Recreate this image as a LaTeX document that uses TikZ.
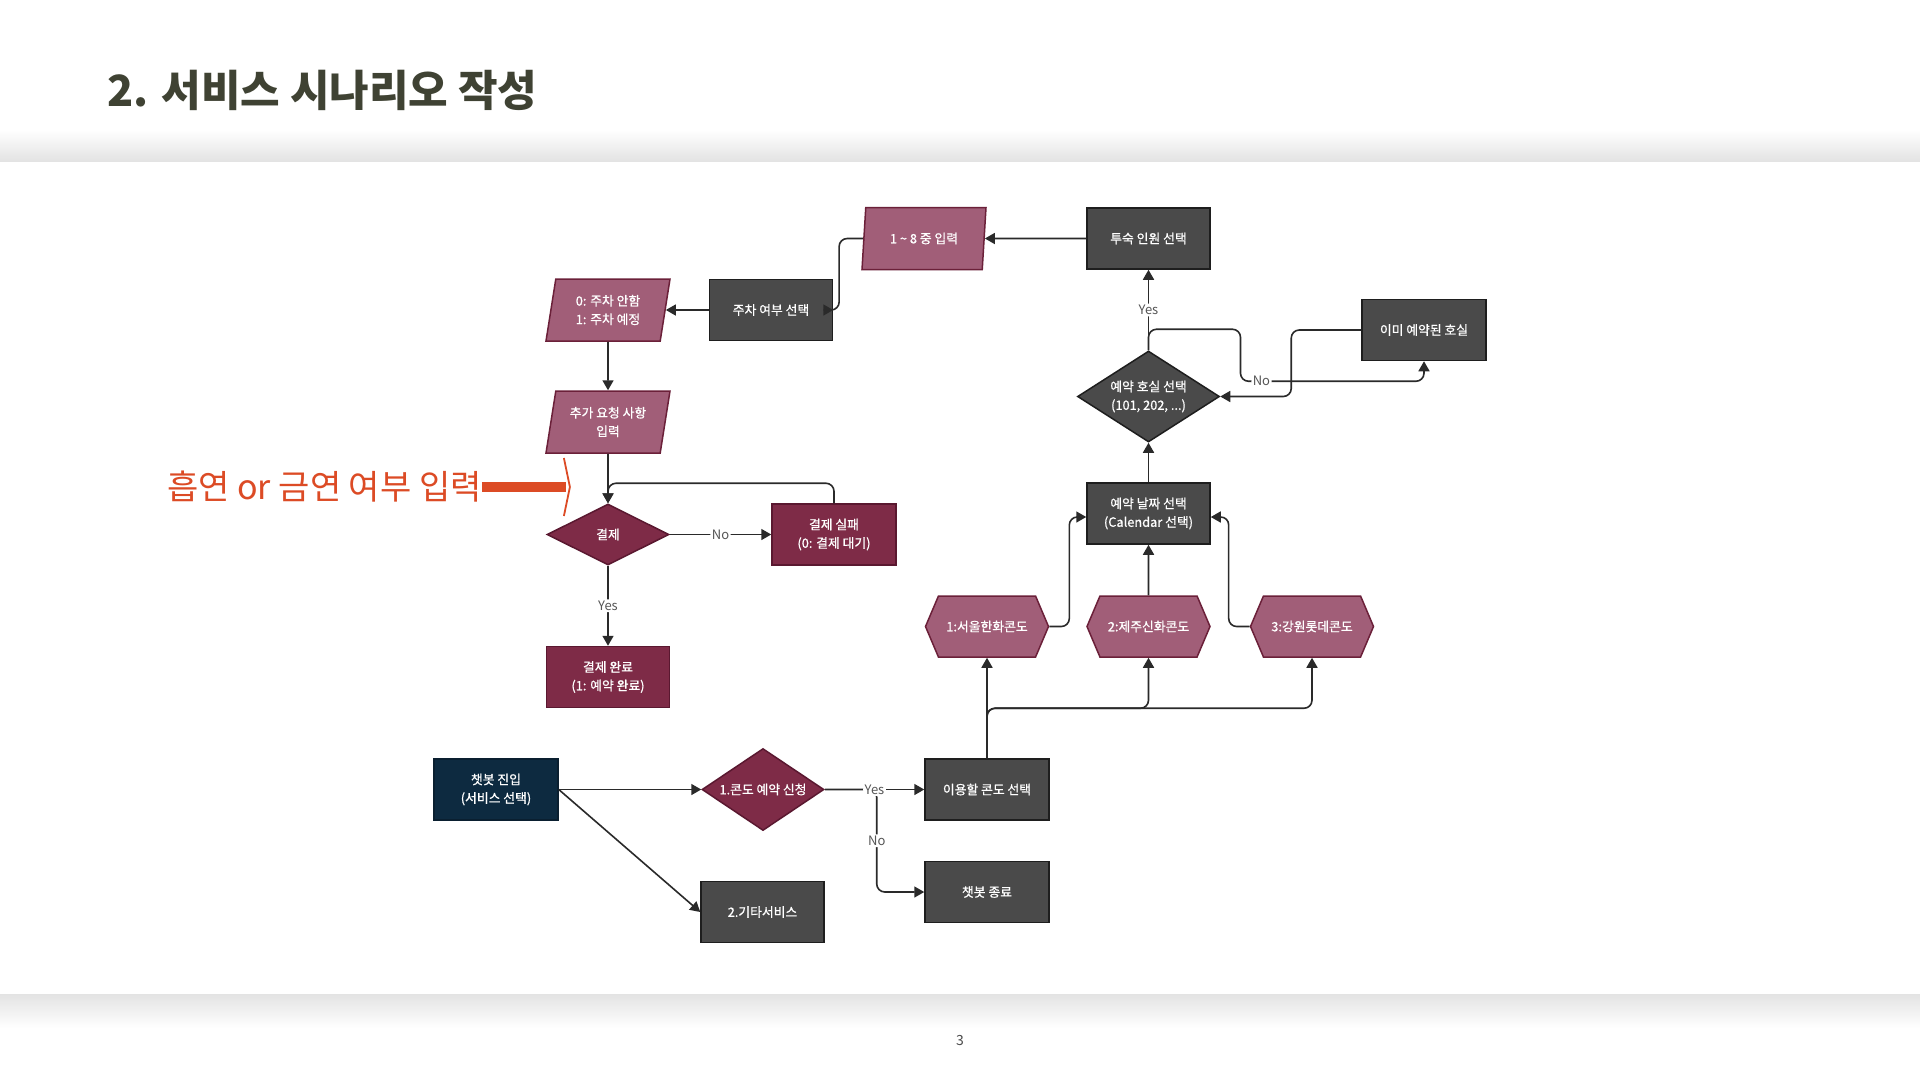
\documentclass[tikz,border=0pt]{standalone}
\usepackage{fontspec}
\setmainfont{Noto Sans CJK KR}
\newfontfamily\nodefont{Noto Sans CJK KR}[FakeBold=0.9]
\usetikzlibrary{shapes.geometric,shapes.symbols,arrows.meta,calc}

\definecolor{darkfill}{HTML}{4A4A4A}
\definecolor{darkline}{HTML}{1E1E1E}
\definecolor{mauve}{HTML}{A15E78}
\definecolor{mauveline}{HTML}{6B2039}
\definecolor{maroon}{HTML}{7E2B47}
\definecolor{maroonline}{HTML}{5A1830}
\definecolor{navy}{HTML}{0D2A40}
\definecolor{navyline}{HTML}{0A1F30}
\definecolor{connector}{HTML}{2A2A2A}
\definecolor{titlecol}{HTML}{3F4233}
\definecolor{accent}{HTML}{DC4B25}
\definecolor{labelgray}{HTML}{555555}

\begin{document}
\begin{tikzpicture}[x=1pt,y=-1pt,
 every node/.style={font=\nodefont\fontsize{12.8}{18.5}\selectfont, align=center, text=white},
 box/.style={rectangle, minimum width=123pt, minimum height=61pt, inner sep=0pt, line width=1.5pt},
 darkbox/.style={box, fill=darkfill, draw=darkline},
 maroonbox/.style={box, fill=maroon, draw=maroonline},
 navybox/.style={box, fill=navy, draw=navyline},
 para/.style={trapezium, trapezium left angle=72, trapezium right angle=108, trapezium stretches body=true, minimum width=124pt, minimum height=62pt, inner sep=0pt, fill=mauve, draw=mauveline, line width=1.5pt},
 hexa/.style={signal, signal to=east and west, signal pointer angle=134, minimum width=123pt, minimum height=61pt, inner sep=0pt, fill=mauve, draw=mauveline, line width=1.5pt},
 dia/.style={diamond, inner sep=0pt, line width=1.5pt},
 arr/.style={draw=connector, line width=1.6pt, rounded corners=8pt, -{Triangle[length=10pt,width=11pt]}},
 lbl/.style={fill=white, text=labelgray, inner sep=1.5pt, font=\fontsize{13}{15}\selectfont},
]
\useasboundingbox (0,0) rectangle (1920,1080);
\fill[white] (0,0) rectangle (1920,1080);
\shade[top color=white, bottom color=black!11] (0,130) rectangle (1920,161);
\shade[top color=black!11, bottom color=white] (0,994) rectangle (1920,1028);

% title
\node[anchor=west, inner sep=0pt, text=titlecol, font=\fontsize{43}{50}\selectfont\bfseries] (title) at (107,90) {2. 서비스 시나리오 작성};

% nodes
\node[darkbox] (tusuk) at (1148.5,238.5) {투숙 인원 선택};
\node[para] (in18) at (924,238.5) {1 \textasciitilde{} 8 중 입력};
\node[darkbox] (parking) at (771,310) {주차 여부 선택};
\node[para] (park01) at (608,310) {0: 주차 안함\\1: 주차 예정};
\node[para] (extra) at (608,422) {추가 요청 사항\\입력};
\node[dia, aspect=2, fill=maroon, draw=maroonline, minimum width=122pt, minimum height=61pt] (pay) at (608,534.5) {결제};
\node[maroonbox, minimum width=124pt] (payfail) at (834,534.5) {결제 실패\\(0: 결제 대기)};
\node[maroonbox] (payok) at (608,677) {결제 완료\\(1: 예약 완료)};
\node[darkbox, minimum width=124pt] (already) at (1424,330) {이미 예약된 호실};
\node[dia, aspect=1.56, inner sep=-3pt, fill=darkfill, draw=darkline, minimum width=142pt, minimum height=91pt] (room) at (1148.5,396.5) {예약 호실 선택\\(101, 202, ...)};
\node[darkbox] (date) at (1148.5,513.5) {예약 날짜 선택\\(Calendar 선택)};
\node[hexa] (h1) at (987,626.5) {1:서울한화콘도};
\node[hexa] (h2) at (1148.5,626.5) {2:제주신화콘도};
\node[hexa] (h3) at (1312,626.5) {3:강원롯데콘도};
\node[navybox, minimum width=124pt] (start) at (496,789.5) {챗봇 진입\\(서비스 선택)};
\node[dia, aspect=1.49, fill=maroon, draw=maroonline, minimum width=122pt, minimum height=82pt] (condo) at (763,789.5) {1.콘도 예약 신청};
\node[darkbox, minimum width=124pt] (choose) at (987,789.5) {이용할 콘도 선택};
\node[darkbox, minimum width=124pt] (quit) at (987,892) {챗봇 종료};
\node[darkbox] (other) at (762.5,912) {2.기타서비스};

% connectors
\draw[arr] (tusuk) -- (in18);
\draw[arr] (in18.west) -- ++(-24,0) |- (parking.east);
\draw[arr] (parking) -- (park01);
\draw[arr] (park01) -- (extra);
\draw[arr] (extra) -- (pay);
\draw[arr] (pay) -- node[lbl]{No} (payfail);
\draw[arr] (payfail.north) -- ++(0,-20) -| (pay.north);
\draw[arr] (pay) -- node[lbl]{Yes} (payok);

\draw[arr] (start) -- (condo);
\draw[arr] (start.east) -- (other.west);
\draw[arr] (condo.east) -- ++(52,0) |- node[lbl, pos=0.25]{No} (quit.west);
\draw[arr] (condo) -- node[lbl]{Yes} (choose);

\draw[arr] (choose) -- (h1);
\draw[arr] (choose.north) -- ++(0,-50) -| (h2.south);
\draw[arr] (choose.north) -- ++(0,-50) -| (h3.south);
\draw[arr] (h1.east) -- ++(20,0) |- ([yshift=-3.5pt]date.west);
\draw[arr] (h3.west) -- ++(-21,0) |- ([yshift=-3.5pt]date.east);
\draw[arr] (h2) -- (date);
\draw[arr] (date) -- (room);
\draw[arr] (room) -- node[lbl]{Yes} (tusuk);
\draw[arr] (room.north) -- ++(0,-21) -| ++(92,52) -| node[lbl, pos=0.057]{No} (already.south);
\draw[arr] (already.west) -- ++(-70,0) |- (room.east);

% annotation
\node[anchor=west, inner sep=0pt, text=accent, font=\fontsize{34}{40}\selectfont] (note) at (167,487) {흡연 or 금연 여부 입력};
\draw[accent, line width=10pt] (note.east) -- ++(84,0) coordinate (notetip);
\draw[accent, line width=1.8pt, line join=round] ([shift={(-2,-29)}]notetip) -- ([shift={(4,0)}]notetip) -- ([shift={(-2,29)}]notetip);

% page number
\node[text=black!70, font=\fontsize{14}{16}\selectfont] (pagenum) at (960,1040) {3};
\end{tikzpicture}
\end{document}
